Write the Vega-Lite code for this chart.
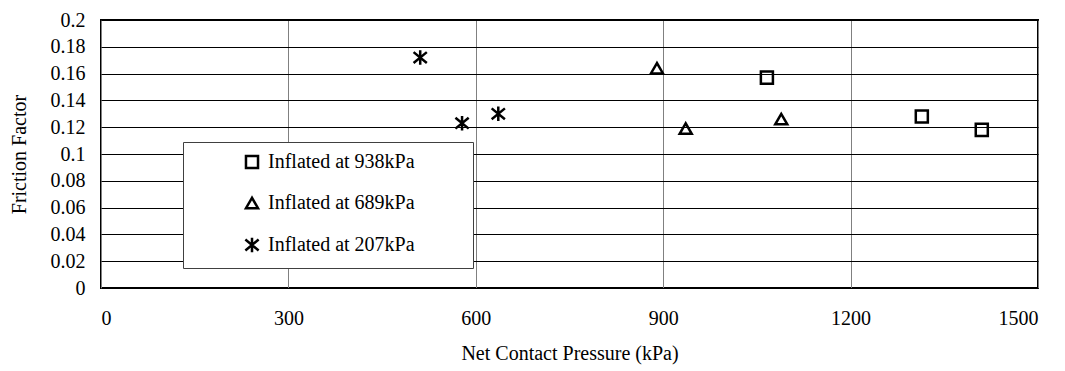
{
  "$schema": "https://vega.github.io/schema/vega-lite/v6.json",
  "autosize": {"type": "none"},
  "padding": {"left": 101, "top": 20, "right": 27, "bottom": 83},
  "width": 937,
  "height": 268,
  "background": "white",
  "config": {
    "view": {"stroke": "black", "strokeWidth": 2},
    "font": "Liberation Serif",
    "legend": {"labelFont": "Liberation Serif"}
  },
  "data": {
    "values": [
      {"pressure": 1066, "friction": 0.157, "series": "Inflated at 938kPa"},
      {"pressure": 1314, "friction": 0.128, "series": "Inflated at 938kPa"},
      {"pressure": 1410, "friction": 0.118, "series": "Inflated at 938kPa"},
      {"pressure": 890, "friction": 0.164, "series": "Inflated at 689kPa"},
      {"pressure": 936, "friction": 0.119, "series": "Inflated at 689kPa"},
      {"pressure": 1089, "friction": 0.126, "series": "Inflated at 689kPa"},
      {"pressure": 511, "friction": 0.172, "series": "Inflated at 207kPa"},
      {"pressure": 578, "friction": 0.123, "series": "Inflated at 207kPa"},
      {"pressure": 636, "friction": 0.13, "series": "Inflated at 207kPa"}
    ]
  },
  "mark": {"type": "point", "filled": false, "stroke": "black", "strokeWidth": 2.5, "size": 145, "opacity": 1},
  "encoding": {
    "x": {
      "field": "pressure", "type": "quantitative",
      "scale": {"domain": [0, 1500], "nice": false, "zero": false},
      "axis": {
        "title": "Net Contact Pressure (kPa)",
        "values": [0, 300, 600, 900, 1200, 1500],
        "format": "d",
        "grid": true, "gridColor": "#808080", "gridWidth": 1, "gridOpacity": 1,
        "ticks": false, "domain": false,
        "labelFont": "Liberation Serif", "labelFontSize": 20, "labelColor": "black",
        "labelPadding": 20, "labelBaseline": "top",
        "titleFont": "Liberation Serif", "titleFontSize": 20, "titleFontWeight": "normal", "titleColor": "black",
        "titlePadding": 15
      }
    },
    "y": {
      "field": "friction", "type": "quantitative",
      "scale": {"domain": [0, 0.2], "nice": false, "zero": false},
      "axis": {
        "title": "Friction Factor",
        "values": [0, 0.02, 0.04, 0.06, 0.08, 0.1, 0.12, 0.14, 0.16, 0.18, 0.2],
        "format": "~g",
        "grid": true, "gridColor": "black", "gridWidth": 1, "gridOpacity": 1,
        "ticks": false, "domain": false,
        "labelFont": "Liberation Serif", "labelFontSize": 20, "labelColor": "black",
        "labelPadding": 16,
        "titleFont": "Liberation Serif", "titleFontSize": 20, "titleFontWeight": "normal", "titleColor": "black",
        "titlePadding": 21
      }
    },
    "shape": {
      "field": "series", "type": "nominal",
      "scale": {
        "domain": ["Inflated at 938kPa", "Inflated at 689kPa", "Inflated at 207kPa"],
        "range": ["square", "triangle-up", "M-1.1,-0.9L1.1,0.9M1.1,-0.9L-1.1,0.9M0,-1.2L0,1.2"]
      },
      "legend": {
        "title": "\u2003",
        "titleOrient": "right",
        "titleFontSize": 20,
        "titlePadding": 48,
        "orient": "none",
        "legendX": 82,
        "legendY": 122,
        "fillColor": "white",
        "strokeColor": "#404040",
        "padding": 10,
        "symbolOffset": 49,
        "symbolSize": 145,
        "symbolStrokeWidth": 2.5,
        "symbolStrokeColor": "black",
        "symbolFillColor": "transparent",
        "labelFont": "Liberation Serif",
        "labelFontSize": 20,
        "labelColor": "black",
        "labelOffset": 6,
        "rowPadding": 18,
        "labelLimit": 400
      }
    }
  }
}
